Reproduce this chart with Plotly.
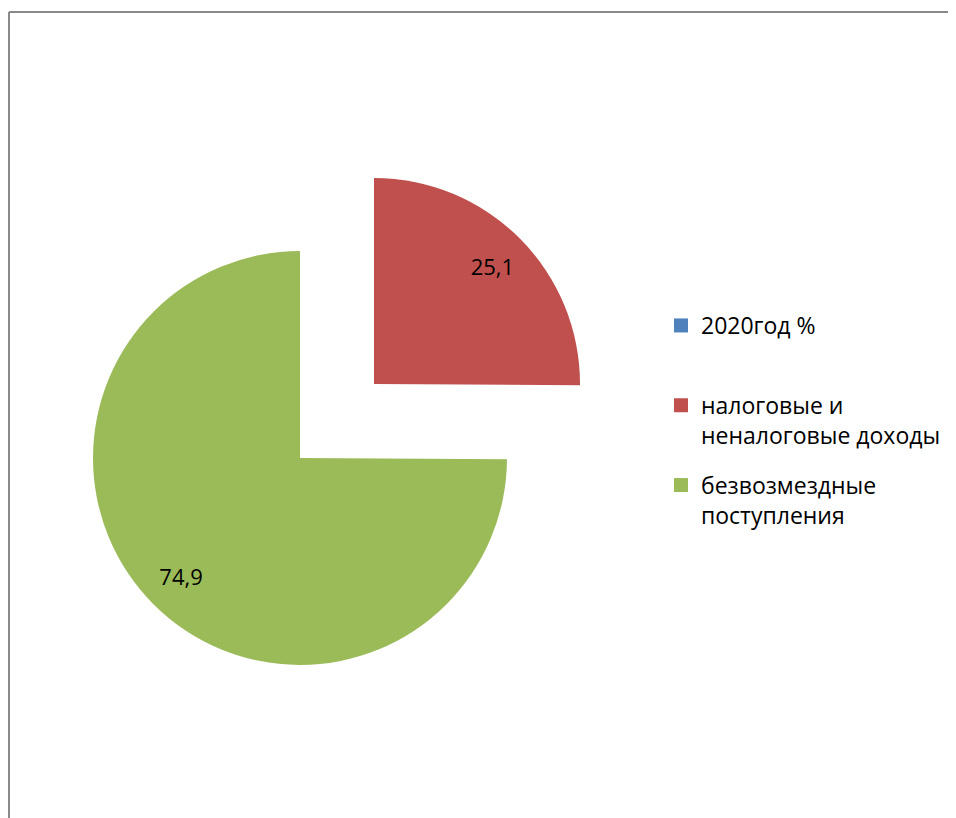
import plotly.graph_objects as go

# ---- data ----
categories = ["2020год %", "налоговые и неналоговые доходы", "безвозмездные поступления"]
legend_labels = ["2020год %<br> ", "налоговые и<br>неналоговые доходы", "безвозмездные<br>поступления"]
values = [0, 25.1, 74.9]
colors = ["#4F81BD", "#C0504D", "#9BBB59"]

# ---- layout helpers ----
PAGE_OFF = 8            # default body margin of the html page
W, H = 956 - PAGE_OFF, 818 - PAGE_OFF
FONT = "Open Sans, Noto Sans, sans-serif"
CLEAR = "rgba(0,0,0,0)"
BORDER = "#898989"


def fx(X):
    return (X - PAGE_OFF) / W


def fy(Y):
    return (H - (Y - PAGE_OFF)) / H


def box(cx, cy, r):
    return dict(x=[fx(cx - r), fx(cx + r)], y=[fy(cy + r), fy(cy - r)])


fig = go.Figure()

# slice index -> pie placement (green in place, red exploded)
placement = {2: (300, 458, 207), 1: (374, 384, 206)}
for idx, (cx, cy, r) in placement.items():
    keep = [i == idx for i in range(len(values))]
    # coloured wedge
    fig.add_trace(go.Pie(
        labels=categories, values=values, sort=False,
        direction="clockwise", rotation=0,
        marker=dict(colors=[c if k else CLEAR for c, k in zip(colors, keep)],
                    line=dict(width=0)),
        textinfo="none",
        domain=box(cx, cy, r), showlegend=False, hoverinfo="skip",
    ))
    # transparent ring carrying the data label (puts label at ~0.81 r)
    fig.add_trace(go.Pie(
        labels=categories, values=values, sort=False,
        direction="clockwise", rotation=0, hole=0.62,
        marker=dict(colors=[CLEAR] * len(values), line=dict(width=0)),
        texttemplate=["%{value:.1f}" if k else "" for k in keep],
        textposition="inside", insidetextorientation="horizontal",
        textfont=dict(family=FONT, size=22, color="black"),
        domain=box(cx, cy, r), showlegend=False, hoverinfo="skip",
    ))

# legend entries
for i, (lab, col) in enumerate(zip(legend_labels, colors)):
    fig.add_trace(go.Scatter(
        x=[None], y=[None], mode="markers", name=lab, legendgroup=f"g{i}",
        marker=dict(symbol="square", size=14, color=col),
    ))

fig.update_layout(
    width=W, height=H,
    margin=dict(l=0, r=0, t=0, b=0),
    paper_bgcolor="white", plot_bgcolor="white",
    separators=", ",
    font=dict(family=FONT, size=23, color="black"),
    xaxis=dict(visible=False), yaxis=dict(visible=False),
    legend=dict(x=fx(661), y=fy(304), xanchor="left", yanchor="top",
                valign="top", tracegroupgap=17, font=dict(family=FONT, size=23),
                bgcolor="rgba(0,0,0,0)"),
    shapes=[
        dict(type="line", xref="paper", yref="paper",
             x0=fx(9), x1=fx(9), y0=-0.05, y1=fy(12),
             line=dict(color=BORDER, width=2)),
        dict(type="line", xref="paper", yref="paper",
             x0=fx(9), x1=1.05, y0=fy(12), y1=fy(12),
             line=dict(color=BORDER, width=2)),
    ],
)

fig.write_html("out.html")
